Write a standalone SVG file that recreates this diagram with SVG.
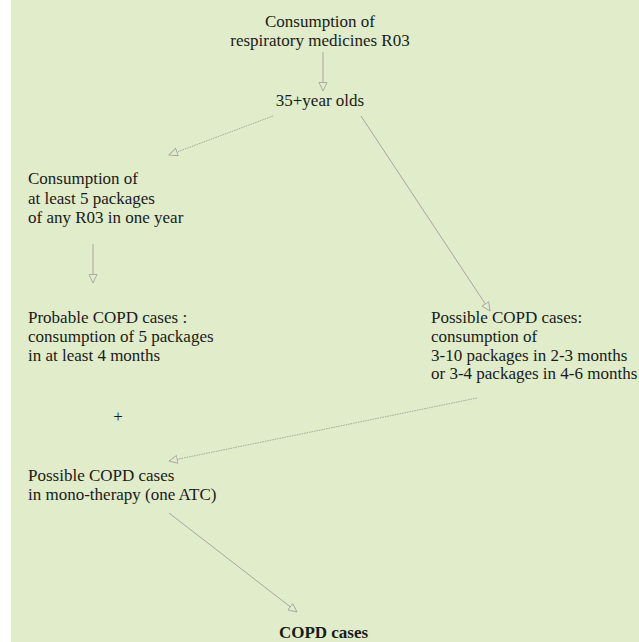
<svg xmlns="http://www.w3.org/2000/svg" width="639" height="642" viewBox="0 0 639 642">
<style>
.t{font-family:"Liberation Serif","Times New Roman",serif;font-size:17px;fill:#1a1a1a}
.c{text-anchor:middle}
.b{font-weight:bold}
.ln{fill:none;stroke:#a6a6a0;stroke-width:1}
.dot{stroke-dasharray:1.5 1}
</style>
<defs>
<marker id="ah" markerUnits="userSpaceOnUse" markerWidth="12" markerHeight="12" refX="9" refY="4.5" orient="auto">
<path d="M0.5,0.5 L9,4.5 L0.5,8.5 Z" fill="#e0ecca" stroke="#a6a6a0" stroke-width="0.9"/>
</marker>
</defs>
<rect x="0" y="0" width="639" height="642" fill="#ffffff"/>
<rect x="11" y="0" width="628" height="642" fill="#e0ecca"/>
<g id="connectors">
<line class="ln" x1="323" y1="52" x2="323" y2="91" marker-end="url(#ah)"/>
<line class="ln dot" x1="273" y1="116" x2="169" y2="155" marker-end="url(#ah)"/>
<line class="ln" x1="361" y1="116" x2="490" y2="311" marker-end="url(#ah)"/>
<line class="ln" x1="93" y1="244" x2="93" y2="283" marker-end="url(#ah)"/>
<line class="ln dot" x1="477" y1="398" x2="169" y2="461" marker-end="url(#ah)"/>
<line class="ln" x1="169" y1="513" x2="297" y2="612" marker-end="url(#ah)"/>
</g>
<g id="n1"><text class="t c" x="320" y="27">Consumption of</text><text class="t c" x="320" y="46">respiratory medicines R03</text></g>
<g id="n2"><text class="t c" x="320" y="106">35+year olds</text></g>
<g id="n3"><text class="t" x="28" y="184">Consumption of</text><text class="t" x="28" y="204">at least 5 packages</text><text class="t" x="28" y="223">of any R03 in one year</text></g>
<g id="n4"><text class="t" x="28" y="323">Probable COPD cases :</text><text class="t" x="28" y="342">consumption of 5 packages</text><text class="t" x="28" y="361">in at least 4 months</text></g>
<g id="n5"><text class="t" x="431" y="323">Possible COPD cases:</text><text class="t" x="431" y="342">consumption of</text><text class="t" x="431" y="361">3-10 packages in 2-3 months</text><text class="t" x="431" y="379">or 3-4 packages in 4-6 months</text></g>
<g id="plus"><text class="t c" x="118" y="422">+</text></g>
<g id="n6"><text class="t" x="28" y="481">Possible COPD cases</text><text class="t" x="28" y="500">in mono-therapy (one ATC)</text></g>
<g id="n7"><text class="t c b" x="323.5" y="638">COPD cases</text></g>
</svg>
